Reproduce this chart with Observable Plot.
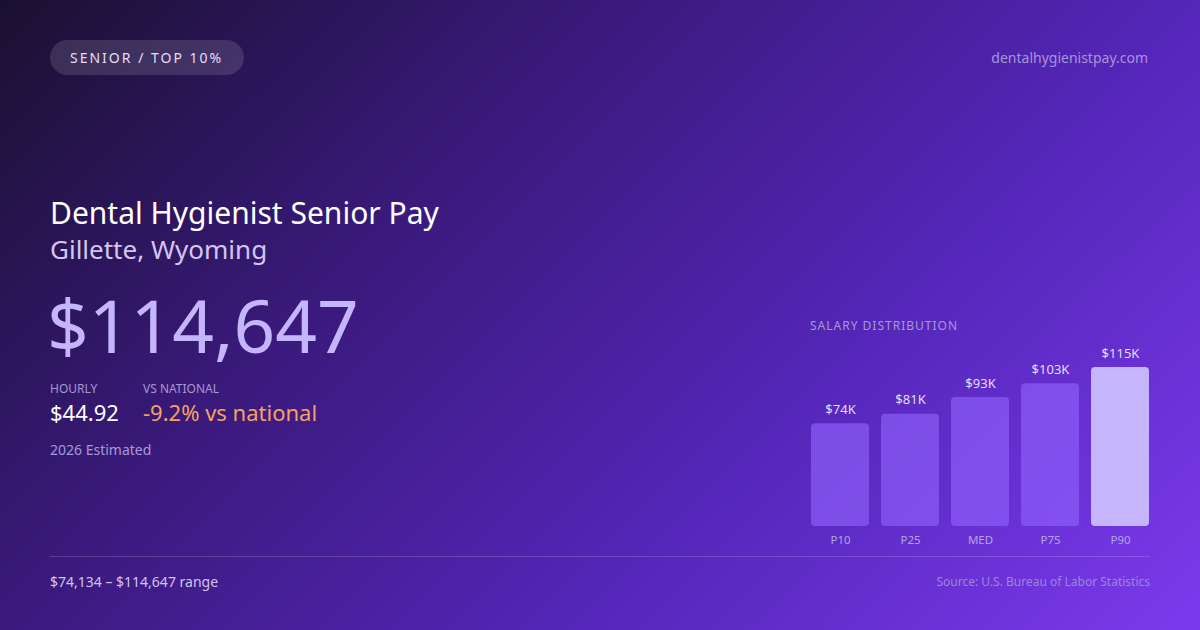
<!DOCTYPE html>
<html>
<head>
<meta charset="utf-8">
<script src="https://cdn.jsdelivr.net/npm/d3@7"></script>
<script src="https://cdn.jsdelivr.net/npm/@observablehq/plot@0.6"></script>
<style>
  html, body { margin: 0; padding: 0; }
  body {
    width: 1200px; height: 630px; overflow: hidden; position: relative;
    font-family: "Noto Sans", sans-serif;
    background: linear-gradient(135deg, #1a1030 0%, #3b1a7e 35%, #5426b8 65%, #7c3aed 100%);
    color: #fff;
  }
  .abs { position: absolute; white-space: nowrap; }
  .pill {
    left: 50px; top: 40px; height: 35px; line-height: 35px; padding: 0 21px 0 20px;
    border-radius: 18px; background: rgba(255,255,255,0.13);
    font-size: 14px; letter-spacing: 2px; color: #e6dcf7;
  }
  .site { right: 52px; top: 48px; font-size: 14px; color: #a793dd; }
  .title { left: 50px; top: 192px; font-size: 30px; color: #ffffff; }
  .sub { left: 50px; top: 231px; font-size: 26px; color: #d2c6f0; }
  .big { left: 47px; top: 281px; font-size: 73px; color: #c4b5fd; line-height: 1.2; }
  .lab { top: 380px; font-size: 12px; color: #a898d8; }
  .val { top: 397px; font-size: 22px; }
  .est { left: 50px; top: 440px; font-size: 14px; color: #a898d8; }
  .dist { left: 810px; top: 317px; font-size: 12px; letter-spacing: 1px; color: #a898d8; }
  .rule { left: 50px; top: 556px; width: 1100px; height: 1px; background: rgba(255,255,255,0.16); }
  .range { left: 50px; top: 572px; font-size: 14px; color: #d0c4ee; }
  .src { right: 50px; top: 573px; font-size: 12px; color: #9d86d8; }
  #chart { left: 810px; top: 340px; }
</style>
</head>
<body>
<div class="abs pill">SENIOR / TOP 10%</div>
<div class="abs site">dentalhygienistpay.com</div>
<div class="abs title">Dental Hygienist Senior Pay</div>
<div class="abs sub">Gillette, Wyoming</div>
<div class="abs big">$114,647</div>
<div class="abs lab" style="left:50px">HOURLY</div>
<div class="abs lab" style="left:143px">VS NATIONAL</div>
<div class="abs val" style="left:50px;color:#ffffff">$44.92</div>
<div class="abs val" style="left:143px;color:#f4a261">-9.2% vs national</div>
<div class="abs est">2026 Estimated</div>
<div class="abs dist">SALARY DISTRIBUTION</div>
<div class="abs" id="chart"></div>
<div class="abs rule"></div>
<div class="abs range">$74,134 – $114,647 range</div>
<div class="abs src">Source: U.S. Bureau of Labor Statistics</div>
<script>
const categories = ["P10", "P25", "MED", "P75", "P90"];
const salaries = [74134, 81000, 93000, 103000, 114647];
const valueLabels = ["$74K", "$81K", "$93K", "$103K", "$115K"];
const highlight = [false, false, false, false, true];

const data = categories.map((c, i) => ({
  cat: c, value: salaries[i], label: valueLabels[i], hi: highlight[i]
}));

const chart = Plot.plot({
  width: 340,
  height: 210,
  marginTop: 27,
  marginBottom: 24,
  marginLeft: 0,
  marginRight: 0,
  style: { background: "transparent", fontFamily: "Noto Sans, sans-serif", overflow: "visible" },
  x: { domain: categories, paddingInner: 0.17, paddingOuter: 0, label: null },
  y: { domain: [0, d3.max(salaries)], axis: null },
  marks: [
    Plot.barY(data, {
      x: "cat", y: "value", rx: 4,
      fill: d => d.hi ? "#c4b5fd" : "rgba(139,92,246,0.72)"
    }),
    Plot.text(data, {
      x: "cat", y: "value", text: "label", dy: -14,
      fill: "#e4dcf8", fontSize: 13
    }),
    Plot.axisX({
      tickSize: 0, tickPadding: 9, fontSize: 11.5, color: "#b3a3e6", label: null
    })
  ]
});
document.getElementById("chart").appendChild(chart);
</script>
</body>
</html>
